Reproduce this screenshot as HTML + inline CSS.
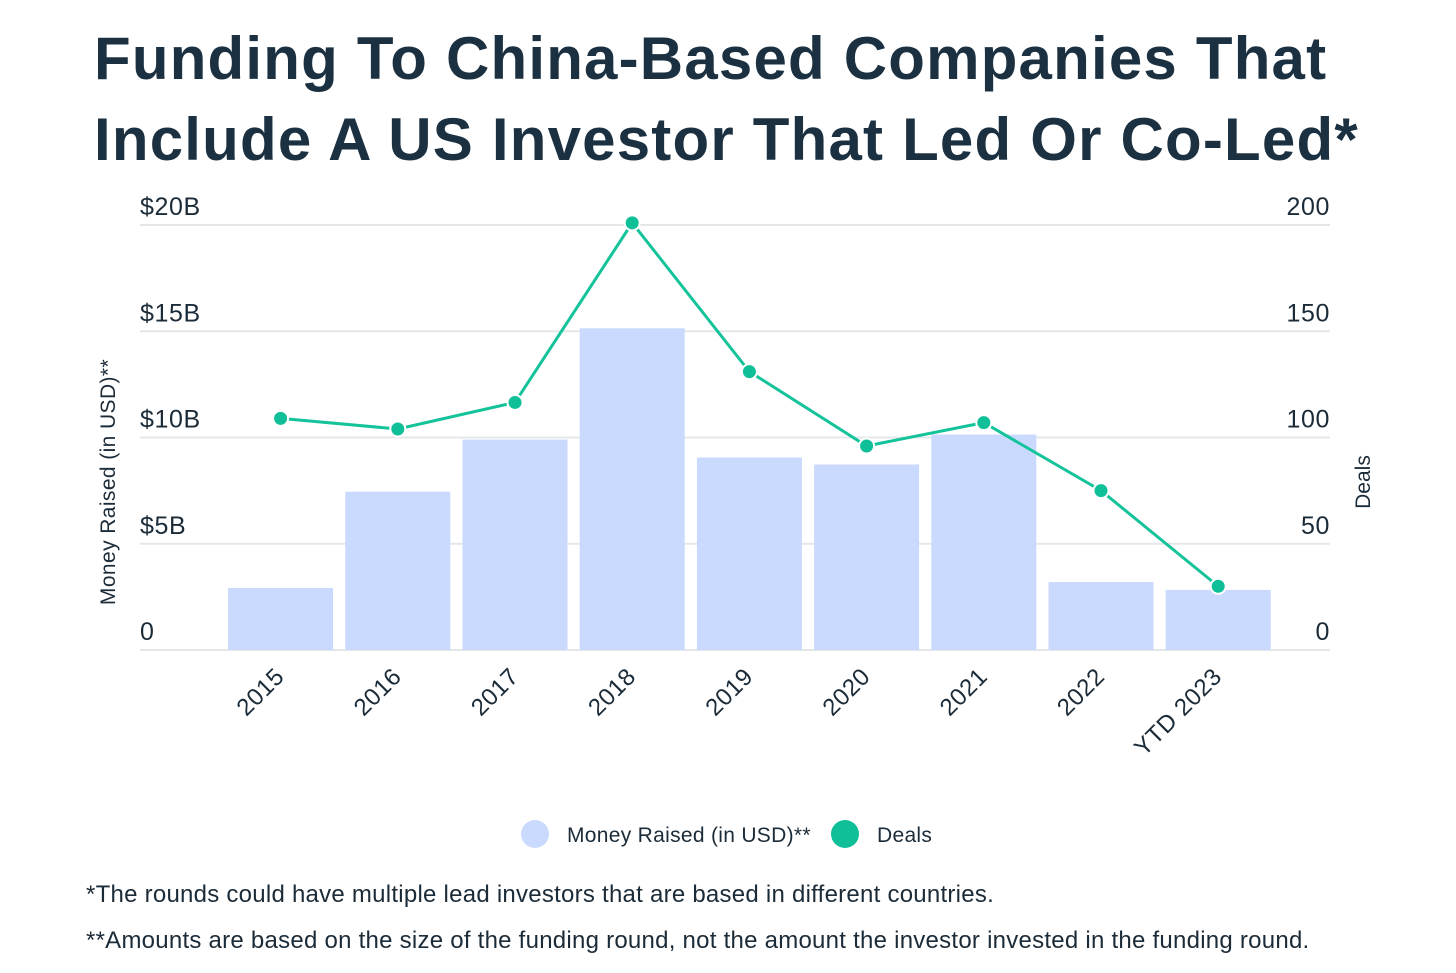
<!DOCTYPE html>
<html><head><meta charset="utf-8"><style>
body{margin:0;background:#fff;width:1456px;height:973px;overflow:hidden;font-family:"Liberation Sans",sans-serif;color:#1b2b38}
h1{position:absolute;left:94px;top:18px;margin:0;font-size:60px;line-height:81px;font-weight:bold;color:#1b3142;letter-spacing:1.2px;white-space:nowrap}
</style></head><body>
<h1>Funding To China-Based Companies That<br>Include A US Investor That Led Or Co-Led*</h1>
<svg id="chart" width="1456" height="973" style="position:absolute;left:0;top:0"></svg>
<script>
const categories=["2015","2016","2017","2018","2019","2020","2021","2022","YTD 2023"];
const moneyRaised=[2.92,7.45,9.9,15.14,9.06,8.73,10.14,3.2,2.83];
const deals=[109,104,116.5,201,131,96,107,75,30];
const leftTicks=["0","$5B","$10B","$15B","$20B"];
const leftTickValues=[0,5,10,15,20];
const rightTickValues=[0,50,100,150,200];

const NS="http://www.w3.org/2000/svg";
const svg=document.getElementById('chart');
function mk(t,a,p){const e=document.createElementNS(NS,t);for(const k in a)e.setAttribute(k,a[k]);(p||svg).appendChild(e);return e;}
const y0=650,y1=225,x0=222,bw=117.2;
const yL=v=>y0-(v/20)*(y0-y1);
const yR=v=>y0-(v/200)*(y0-y1);
const xC=i=>x0+bw*(i+0.5);
leftTickValues.forEach((v,i)=>{
 const g=mk('line',{x1:140,x2:1330,y1:yL(v),y2:yL(v),stroke:'#e3e7ea','stroke-width':2});
 
 
 const t=mk('text',{x:140,y:yL(v)-10,'font-size':25,'letter-spacing':0.6,fill:'#1b2b38'});t.textContent=leftTicks[i];
 
 
});
rightTickValues.forEach(v=>{
 const t=mk('text',{x:1330,y:yR(v)-10,'font-size':25,'letter-spacing':0.6,fill:'#1b2b38','text-anchor':'end'});t.textContent=v;
 
 
});
moneyRaised.forEach((v,i)=>{
 const r=mk('rect',{x:xC(i)-52.5,y:yL(v),width:105,height:y0-yL(v),fill:'#c9dafe'});
 
 
});
const pts=deals.map((v,i)=>xC(i)+','+yR(v)).join(' ');
const pl=mk('polyline',{points:pts,fill:'none',stroke:'#14c39a','stroke-width':3});


deals.forEach((v,i)=>{
 const c=mk('circle',{cx:xC(i),cy:yR(v),r:7.5,fill:'#0ebf98',stroke:'#fff','stroke-width':2});
 
 
});
categories.forEach((c,i)=>{
 const x=xC(i)+5,y=678;
 const t=mk('text',{x:x,y:y,'font-size':24,'letter-spacing':0.5,fill:'#1b2b38','text-anchor':'end',transform:`rotate(-45 ${x} ${y})`});t.textContent=c;
 
 
});
let t=mk('text',{x:115,y:482,'font-size':21,'letter-spacing':0.4,fill:'#1b2b38','text-anchor':'middle',transform:'rotate(-90 115 482)'});t.textContent='Money Raised (in USD)**';


t=mk('text',{x:1370,y:482,'font-size':21,fill:'#1b2b38','text-anchor':'middle',transform:'rotate(-90 1370 482)'});t.textContent='Deals';


let c=mk('circle',{cx:535,cy:834,r:14,fill:'#c9dafe'});


t=mk('text',{x:567,y:842,'font-size':21,'letter-spacing':0.3,fill:'#1b2b38'});t.textContent='Money Raised (in USD)**';


c=mk('circle',{cx:845,cy:834,r:14,fill:'#0ebf98'});


t=mk('text',{x:877,y:842,'font-size':21,'letter-spacing':0.3,fill:'#1b2b38'});t.textContent='Deals';


t=mk('text',{x:86,y:902,'font-size':24,'letter-spacing':0.25,fill:'#1b2b38'});t.textContent='*The rounds could have multiple lead investors that are based in different countries.';


t=mk('text',{x:86,y:948,'font-size':24,'letter-spacing':0.25,fill:'#1b2b38'});t.textContent='**Amounts are based on the size of the funding round, not the amount the investor invested in the funding round.';


</script>
</body></html>
